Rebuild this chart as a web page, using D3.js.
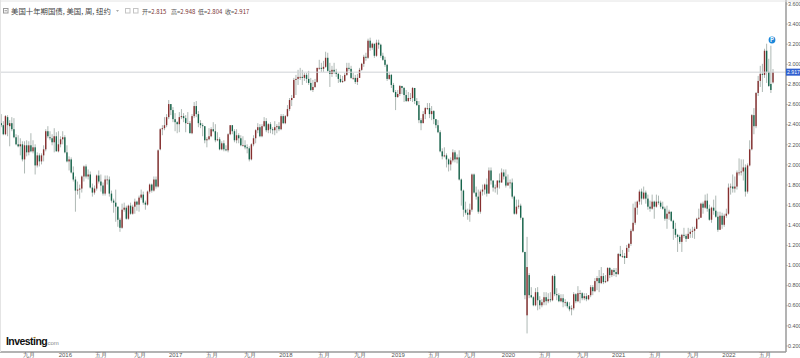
<!DOCTYPE html>
<html>
<head>
<meta charset="utf-8">
<script src="https://cdn.jsdelivr.net/npm/d3@7/dist/d3.min.js"></script>
<style>
    html, body { margin: 0; padding: 0; background: #fff; overflow: hidden; }
    svg { display: block; font-family: "Noto Sans CJK SC", "Liberation Sans", sans-serif; }
    .axis path, .axis line { stroke: #9a9a9a; }
    .axis text { fill: #555; font-size: 6px; }
    .yaxis text { font-family: "Liberation Sans", sans-serif; font-size: 5.4px; }
    .bars { filter: blur(0.25px); }
</style>
</head>
<body>
<svg id="chart" width="800" height="358"></svg>
<script>
// weekly bars
const firstWeek = "2015-06-01";
const lastWeek = "2022-05-30";

const opens = [
    2.35,2.41,2.39,2.30,2.47,2.38,2.41,2.35,2.27,2.20,
    2.18,2.20,2.05,2.19,2.12,2.19,2.13,2.17,1.99,2.09,
    2.03,2.09,2.15,2.33,2.27,2.26,2.22,2.28,2.13,2.20,
    2.25,2.27,2.12,2.03,2.05,1.92,1.85,1.74,1.75,1.76,
    1.88,1.98,1.88,1.90,1.77,1.72,1.76,1.89,1.83,1.79,
    1.71,1.85,1.85,1.71,1.64,1.62,1.58,1.45,1.37,1.55,
    1.57,1.46,1.59,1.51,1.58,1.63,1.60,1.67,1.70,1.62,
    1.60,1.73,1.80,1.74,1.85,1.78,2.15,2.35,2.36,2.39,
    2.47,2.60,2.54,2.45,2.42,2.40,2.47,2.48,2.46,2.41,
    2.41,2.31,2.48,2.58,2.50,2.41,2.39,2.38,2.24,2.25,
    2.28,2.35,2.33,2.24,2.25,2.15,2.21,2.15,2.14,2.30,
    2.39,2.33,2.24,2.29,2.26,2.19,2.19,2.17,2.16,2.05,
    2.20,2.26,2.34,2.37,2.28,2.38,2.43,2.34,2.40,2.35,
    2.34,2.37,2.38,2.35,2.48,2.41,2.48,2.55,2.64,2.66,
    2.84,2.85,2.87,2.87,2.86,2.89,2.85,2.81,2.74,2.77,
    2.82,2.96,2.96,2.95,2.97,3.06,2.93,2.90,2.94,2.92,
    2.90,2.85,2.82,2.83,2.89,2.96,2.95,2.86,2.86,2.82,
    2.86,2.94,3.00,3.07,3.06,3.23,3.16,3.20,3.08,3.21,
    3.19,3.08,3.04,2.99,2.85,2.89,2.79,2.72,2.67,2.70,
    2.78,2.76,2.69,2.63,2.66,2.66,2.76,2.63,2.59,2.44,
    2.41,2.50,2.56,2.56,2.50,2.53,2.45,2.39,2.32,2.13,
    2.08,2.09,2.05,2.00,2.04,2.12,2.05,2.07,1.85,1.74,
    1.55,1.52,1.50,1.55,1.90,1.72,1.68,1.53,1.73,1.75,
    1.80,1.71,1.94,1.84,1.77,1.77,1.84,1.82,1.92,1.88,
    1.79,1.82,1.82,1.68,1.51,1.58,1.59,1.47,1.13,0.50,
    0.90,0.70,0.68,0.60,0.73,0.65,0.60,0.63,0.68,0.64,
    0.66,0.65,0.89,0.71,0.70,0.64,0.67,0.63,0.63,0.59,
    0.56,0.57,0.71,0.64,0.72,0.72,0.67,0.69,0.66,0.70,
    0.78,0.74,0.84,0.87,0.82,0.89,0.83,0.84,0.97,0.90,
    0.95,0.93,0.91,1.11,1.09,1.09,1.07,1.17,1.21,1.34,
    1.42,1.57,1.63,1.73,1.66,1.72,1.66,1.58,1.56,1.63,
    1.58,1.63,1.62,1.58,1.56,1.46,1.51,1.53,1.44,1.36,
    1.30,1.28,1.23,1.30,1.29,1.26,1.31,1.33,1.34,1.36,
    1.46,1.47,1.61,1.57,1.64,1.56,1.45,1.57,1.54,1.48,
    1.35,1.49,1.40,1.49,1.51,1.77,1.78,1.76,1.78,1.92,
    1.92,1.93,1.97,1.73,1.99,2.15,2.49,2.38,2.71,2.83,
    2.90,2.89,3.13,2.92,2.80,2.815
];
const highs = [
    2.49,2.50,2.43,2.49,2.49,2.44,2.47,2.46,2.30,2.29,
    2.26,2.23,2.23,2.24,2.23,2.31,2.24,2.20,2.12,2.11,
    2.11,2.19,2.35,2.38,2.33,2.30,2.36,2.32,2.33,2.28,
    2.33,2.29,2.19,2.08,2.07,1.98,1.88,1.83,1.80,1.89,
    1.99,2.00,1.95,1.93,1.81,1.79,1.90,1.94,1.90,1.82,
    1.89,1.89,1.88,1.74,1.66,1.75,1.58,1.47,1.61,1.62,
    1.59,1.60,1.62,1.60,1.66,1.64,1.69,1.75,1.73,1.64,
    1.74,1.81,1.81,1.88,1.88,2.15,2.36,2.39,2.47,2.50,
    2.64,2.60,2.57,2.51,2.43,2.52,2.55,2.51,2.49,2.52,
    2.43,2.50,2.62,2.63,2.53,2.44,2.41,2.38,2.27,2.36,
    2.37,2.42,2.40,2.32,2.27,2.23,2.24,2.19,2.31,2.39,
    2.39,2.35,2.35,2.31,2.29,2.28,2.24,2.20,2.18,2.21,
    2.29,2.35,2.41,2.40,2.40,2.47,2.46,2.41,2.42,2.37,
    2.43,2.40,2.42,2.50,2.50,2.49,2.59,2.66,2.69,2.86,
    2.89,2.94,2.96,2.94,2.91,2.91,2.93,2.86,2.84,2.85,
    2.96,3.04,3.01,3.03,3.12,3.11,3.01,2.98,3.01,2.95,
    2.91,2.89,2.88,2.91,3.01,3.01,2.98,2.91,2.89,2.90,
    2.96,3.01,3.09,3.11,3.25,3.26,3.21,3.20,3.24,3.24,
    3.20,3.11,3.07,3.00,2.92,2.90,2.81,2.74,2.74,2.79,
    2.78,2.77,2.74,2.72,2.71,2.77,2.76,2.66,2.63,2.46,
    2.53,2.57,2.61,2.61,2.58,2.54,2.45,2.44,2.34,2.16,
    2.17,2.11,2.06,2.07,2.15,2.14,2.10,2.14,1.86,1.75,
    1.63,1.56,1.61,1.91,1.91,1.78,1.75,1.75,1.80,1.81,
    1.86,1.97,1.97,1.84,1.80,1.84,1.91,1.96,1.95,1.95,
    1.90,1.85,1.86,1.69,1.65,1.65,1.61,1.47,1.13,1.28,
    0.92,0.78,0.69,0.77,0.78,0.69,0.66,0.73,0.73,0.72,
    0.73,0.90,0.91,0.77,0.72,0.71,0.71,0.66,0.64,0.63,
    0.60,0.73,0.72,0.79,0.75,0.73,0.72,0.72,0.70,0.80,
    0.80,0.87,0.89,0.95,0.98,0.92,0.90,0.98,0.98,0.96,
    0.97,0.97,1.12,1.19,1.15,1.12,1.20,1.22,1.36,1.61,
    1.63,1.64,1.75,1.76,1.78,1.74,1.70,1.64,1.70,1.64,
    1.70,1.69,1.64,1.63,1.58,1.59,1.55,1.53,1.45,1.42,
    1.31,1.30,1.31,1.37,1.31,1.37,1.36,1.38,1.38,1.47,
    1.56,1.62,1.63,1.70,1.71,1.60,1.58,1.65,1.69,1.53,
    1.53,1.52,1.51,1.56,1.81,1.81,1.90,1.88,1.94,2.06,
    2.05,2.05,2.00,2.01,2.24,2.50,2.56,2.72,2.88,2.98,
    3.00,3.15,3.20,3.05,3.18,2.948
];
const lows = [
    2.34,2.37,2.29,2.29,2.28,2.18,2.33,2.26,2.19,2.17,
    2.09,2.03,1.91,2.08,2.09,2.12,2.11,1.90,1.97,1.98,
    2.00,2.03,2.13,2.26,2.24,2.19,2.12,2.13,2.12,2.17,
    2.20,2.11,2.02,1.94,1.91,1.83,1.53,1.70,1.66,1.72,
    1.83,1.86,1.85,1.76,1.68,1.70,1.74,1.81,1.73,1.69,
    1.69,1.80,1.68,1.62,1.52,1.43,1.38,1.33,1.36,1.53,
    1.45,1.45,1.50,1.50,1.51,1.54,1.53,1.65,1.60,1.55,
    1.59,1.71,1.72,1.73,1.76,1.77,2.14,2.29,2.34,2.37,
    2.45,2.49,2.42,2.33,2.31,2.32,2.45,2.42,2.32,2.41,
    2.31,2.30,2.46,2.47,2.37,2.36,2.28,2.21,2.17,2.24,
    2.27,2.32,2.22,2.23,2.14,2.14,2.13,2.13,2.12,2.29,
    2.30,2.22,2.21,2.21,2.18,2.18,2.15,2.11,2.03,2.04,
    2.18,2.21,2.31,2.27,2.27,2.37,2.32,2.31,2.31,2.30,
    2.29,2.31,2.33,2.34,2.40,2.40,2.47,2.53,2.58,2.66,
    2.69,2.79,2.84,2.79,2.83,2.81,2.79,2.73,2.72,2.76,
    2.81,2.94,2.92,2.92,2.96,2.92,2.77,2.87,2.90,2.87,
    2.81,2.81,2.81,2.82,2.88,2.93,2.85,2.84,2.80,2.79,
    2.86,2.93,2.97,3.03,3.05,3.13,3.14,3.06,3.07,3.15,
    3.06,3.03,2.97,2.83,2.84,2.76,2.71,2.54,2.66,2.68,
    2.70,2.62,2.62,2.62,2.63,2.62,2.60,2.58,2.41,2.34,
    2.41,2.45,2.54,2.46,2.44,2.40,2.36,2.31,2.12,2.05,
    2.07,1.97,1.93,1.94,2.02,2.02,2.01,1.84,1.59,1.48,
    1.50,1.45,1.43,1.53,1.71,1.65,1.51,1.51,1.69,1.70,
    1.68,1.71,1.80,1.73,1.72,1.70,1.76,1.82,1.85,1.77,
    1.79,1.76,1.66,1.50,1.50,1.56,1.45,1.12,0.66,0.32,
    0.67,0.67,0.59,0.59,0.55,0.56,0.58,0.60,0.60,0.62,
    0.63,0.64,0.69,0.65,0.63,0.63,0.58,0.59,0.57,0.54,
    0.50,0.55,0.62,0.63,0.62,0.65,0.65,0.64,0.65,0.68,
    0.70,0.73,0.75,0.73,0.81,0.81,0.82,0.83,0.87,0.88,
    0.89,0.88,0.90,1.08,1.07,1.01,1.07,1.13,1.19,1.33,
    1.40,1.50,1.60,1.60,1.65,1.61,1.55,1.53,1.55,1.46,
    1.57,1.60,1.56,1.55,1.44,1.36,1.45,1.43,1.25,1.27,
    1.13,1.21,1.13,1.27,1.23,1.26,1.27,1.27,1.26,1.36,
    1.45,1.47,1.51,1.56,1.53,1.44,1.42,1.50,1.47,1.33,
    1.35,1.36,1.38,1.47,1.50,1.70,1.72,1.72,1.75,1.89,
    1.89,1.84,1.68,1.71,1.98,2.14,2.30,2.36,2.68,2.77,
    2.72,2.86,2.81,2.77,2.71,2.804
];
const closes = [
    2.41,2.39,2.30,2.48,2.39,2.41,2.35,2.27,2.20,2.18,
    2.20,2.05,2.19,2.12,2.19,2.13,2.17,1.99,2.09,2.03,
    2.09,2.15,2.33,2.28,2.26,2.22,2.28,2.13,2.20,2.25,
    2.27,2.12,2.03,2.05,1.92,1.85,1.74,1.75,1.76,1.88,
    1.98,1.88,1.90,1.77,1.72,1.76,1.89,1.83,1.79,1.71,
    1.85,1.85,1.71,1.64,1.62,1.58,1.45,1.37,1.55,1.57,
    1.46,1.59,1.51,1.58,1.63,1.60,1.67,1.70,1.62,1.60,
    1.73,1.80,1.74,1.85,1.78,2.14,2.35,2.36,2.39,2.47,
    2.60,2.54,2.45,2.42,2.40,2.47,2.48,2.46,2.41,2.41,
    2.31,2.48,2.58,2.50,2.41,2.39,2.38,2.24,2.25,2.28,
    2.35,2.33,2.24,2.25,2.15,2.21,2.15,2.14,2.30,2.39,
    2.33,2.24,2.29,2.26,2.19,2.19,2.17,2.16,2.05,2.20,
    2.26,2.34,2.37,2.28,2.38,2.43,2.34,2.40,2.35,2.34,
    2.37,2.38,2.35,2.48,2.41,2.48,2.55,2.64,2.66,2.84,
    2.85,2.87,2.87,2.86,2.89,2.85,2.81,2.74,2.77,2.82,
    2.96,2.96,2.95,2.97,3.06,2.93,2.90,2.94,2.92,2.90,
    2.85,2.82,2.83,2.89,2.96,2.95,2.86,2.86,2.82,2.86,
    2.94,3.00,3.07,3.06,3.23,3.16,3.20,3.08,3.21,3.19,
    3.08,3.04,2.99,2.85,2.89,2.79,2.72,2.67,2.70,2.78,
    2.76,2.69,2.63,2.66,2.66,2.76,2.63,2.59,2.44,2.41,
    2.50,2.56,2.56,2.50,2.53,2.45,2.39,2.32,2.13,2.08,
    2.09,2.05,2.00,2.04,2.12,2.05,2.07,1.85,1.74,1.55,
    1.52,1.50,1.55,1.90,1.72,1.68,1.53,1.73,1.75,1.80,
    1.71,1.94,1.84,1.77,1.77,1.84,1.82,1.92,1.88,1.79,
    1.82,1.82,1.68,1.51,1.58,1.59,1.47,1.13,0.70,0.98,
    0.70,0.68,0.60,0.73,0.65,0.60,0.63,0.68,0.64,0.66,
    0.65,0.89,0.71,0.70,0.64,0.67,0.63,0.63,0.59,0.56,
    0.57,0.71,0.64,0.72,0.72,0.67,0.69,0.66,0.70,0.78,
    0.74,0.84,0.87,0.82,0.89,0.83,0.84,0.97,0.90,0.95,
    0.93,0.91,1.11,1.09,1.09,1.07,1.17,1.21,1.34,1.42,
    1.57,1.63,1.73,1.66,1.72,1.66,1.58,1.56,1.63,1.58,
    1.63,1.62,1.58,1.56,1.46,1.51,1.53,1.44,1.36,1.30,
    1.28,1.23,1.30,1.29,1.26,1.31,1.33,1.34,1.36,1.46,
    1.47,1.61,1.57,1.64,1.56,1.45,1.57,1.54,1.48,1.35,
    1.49,1.40,1.49,1.51,1.77,1.78,1.76,1.78,1.92,1.92,
    1.93,1.97,1.73,1.99,2.15,2.49,2.38,2.71,2.83,2.90,
    2.89,3.13,2.92,2.78,2.74,2.917
];

// first Monday of each labelled month
const tickDates = [
    "2015-09-07","2016-01-04","2016-05-02","2016-09-05","2017-01-02","2017-05-01","2017-09-04",
    "2018-01-01","2018-05-07","2018-09-03","2019-01-07","2019-05-06","2019-09-02","2020-01-06",
    "2020-05-04","2020-09-07","2021-01-04","2021-05-03","2021-09-06","2022-01-03","2022-05-02"
];
const tickNames = [
    "九月","2016","五月","九月","2017","五月","九月",
    "2018","五月","九月","2019","五月","九月","2020",
    "五月","九月","2021","五月","九月","2022","五月"
];
const priceTicks = [0.2,0.4,0.6,0.8,1.0,1.2,1.4,1.6,1.8,2.0,2.2,2.4,2.6,2.8,3.0,3.2,3.4,3.6];

const plot = { left: 0, right: 786, bottom: 352 };
const parseDay = d3.utcParse("%Y-%m-%d");
const svg = d3.select("#chart");

const weeks = d3.utcMonday.range(parseDay(firstWeek), d3.utcDay.offset(parseDay(lastWeek), 1));

const x = d3.scaleUtc().domain([parseDay(firstWeek), parseDay(lastWeek)]).range([-0.9, 773]);
const y = d3.scaleLinear().domain([0.2, 3.2]).range([345.5, 43.7]);

// 周线蜡烛，涨红跌绿
const upColor = "#862f2f";
const downColor = "#17654c";
const bars = svg.append("g")
    .attr("class", "bars")
    .selectAll("g")
    .data(weeks.map((d, i) => ({ date: d, open: opens[i], high: highs[i], low: lows[i], close: closes[i] })))
    .join("g");

bars.append("line")
    .attr("x1", d => x(d.date))
    .attr("x2", d => x(d.date))
    .attr("y1", d => y(d.high))
    .attr("y2", d => y(d.low))
    .attr("stroke", "#aeb8b4")
    .attr("stroke-width", 1);

bars.append("rect")
    .attr("x", d => x(d.date) - 0.7)
    .attr("width", 1.4)
    .attr("y", d => y(Math.max(d.open, d.close)))
    .attr("height", d => Math.max(0.8, Math.abs(y(d.open) - y(d.close))))
    .attr("fill", d => d.close >= d.open ? upColor : downColor);

// 当前价格线
const lastClose = closes[closes.length - 1];
svg.append("line")
    .attr("x1", plot.left).attr("x2", plot.right)
    .attr("y1", y(lastClose)).attr("y2", y(lastClose))
    .attr("stroke", "#cfd2d6");

// axes
const yAxis = d3.axisRight(y).tickValues(priceTicks).tickFormat(d3.format(".3f")).tickSize(1.5).tickPadding(0.5);
svg.append("g").attr("class", "axis yaxis")
    .attr("transform", `translate(${plot.right},0)`)
    .call(yAxis)
    .call(g => g.select(".domain").attr("d", "M0,0V352").attr("stroke", "#b0b0b0").attr("stroke-width", 1.5));

const xAxis = d3.axisBottom(x)
    .tickValues(tickDates.map(parseDay))
    .tickFormat((d, i) => tickNames[i])
    .tickSize(0)
    .tickPadding(0.5);
svg.append("g").attr("class", "axis")
    .attr("transform", `translate(0,${plot.bottom})`)
    .call(xAxis)
    .call(g => g.select(".domain").attr("d", `M0,0H${plot.right}`).attr("stroke", "#a8a8a8").attr("stroke-width", 1.5));

// 顶部和左侧边框
svg.append("line").attr("x1", 0).attr("x2", 800).attr("y1", 1).attr("y2", 1).attr("stroke", "#e4e4e4");
svg.append("line").attr("x1", 0.5).attr("x2", 0.5).attr("y1", 0).attr("y2", 352).attr("stroke", "#e4e4e4");

// price tag on the axis
svg.append("rect")
    .attr("x", plot.right).attr("y", y(lastClose) - 3.5)
    .attr("width", 14).attr("height", 7)
    .attr("fill", "#2f5fd0");
svg.append("text")
    .attr("x", plot.right + 1).attr("y", y(lastClose) + 2)
    .attr("font-family", "Liberation Sans, sans-serif")
    .attr("font-size", 5.2).attr("fill", "#fff")
    .text(d3.format(".3f")(lastClose));

// 事件标记
svg.append("circle").attr("cx", 772).attr("cy", 40).attr("r", 3.4).attr("fill", "#1b86d8");
svg.append("text")
    .attr("x", 772).attr("y", 42.1)
    .attr("text-anchor", "middle").attr("font-size", 5.8).attr("font-weight", 700).attr("fill", "#fff")
    .text("P");

// header
svg.append("rect").attr("x", 3.5).attr("y", 8.5).attr("width", 4.5).attr("height", 4.5)
    .attr("fill", "none").attr("stroke", "#999");
svg.append("line").attr("x1", 4.5).attr("x2", 7).attr("y1", 10.75).attr("y2", 10.75).attr("stroke", "#999");
svg.append("text")
    .attr("x", 11).attr("y", 14)
    .attr("font-size", 7.4).attr("fill", "#444")
    .text("美国十年期国债, 美国, 周, 纽约");
svg.append("path").attr("d", "M116,10h3l-1.5,2z").attr("fill", "#aaa");

[125, 133].forEach(px => {
    svg.append("rect").attr("x", px + 0.5).attr("y", 8.5).attr("width", 4.5).attr("height", 4.5)
        .attr("fill", "none").attr("stroke", "#c4c4c4");
});

const ohlcLabels = ["开", "高", "低", "收"];
const ohlcValues = ["2.815", "2.948", "2.804", "2.917"];
const ohlcX = [142, 171, 198, 225];
ohlcLabels.forEach((name, i) => {
    const t = svg.append("text")
        .attr("x", ohlcX[i]).attr("y", 13.5)
        .attr("font-size", 6).attr("fill", "#555");
    t.append("tspan").text(name + "=");
    t.append("tspan").attr("fill", "#7a3434").text(ohlcValues[i]);
});

// logo
svg.append("text")
    .attr("x", 6).attr("y", 345)
    .attr("font-family", "Liberation Sans, sans-serif")
    .attr("font-size", 10.5).attr("font-weight", 700).attr("letter-spacing", -0.55).attr("fill", "#111")
    .text("Investing");
svg.append("circle").attr("cx", 35).attr("cy", 337.5).attr("r", 0.7).attr("fill", "#f0a830");
svg.append("text")
    .attr("x", 47.5).attr("y", 345)
    .attr("font-family", "Liberation Sans, sans-serif")
    .attr("font-size", 6).attr("fill", "#888")
    .text("com");
</script>
</body>
</html>
